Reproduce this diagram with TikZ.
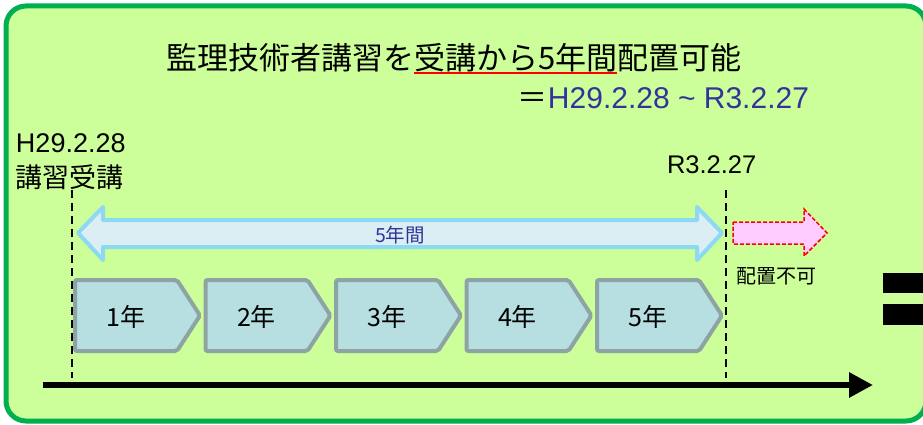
\documentclass[tikz,border=0pt]{standalone}
\usepackage{fontspec}
\setmainfont{Liberation Sans}
\newfontfamily\jp{Noto Sans CJK JP}
\usetikzlibrary{arrows.meta, positioning}

\definecolor{bggreen}{HTML}{CCFF99}
\definecolor{framegreen}{HTML}{00B050}
\definecolor{spanfill}{HTML}{DAEEF3}
\definecolor{spanline}{HTML}{8DD9F3}
\definecolor{yearfill}{HTML}{B7DEE0}
\definecolor{yearline}{HTML}{8EA4A4}
\definecolor{ngfill}{HTML}{FFCCFF}
\definecolor{eqblue}{HTML}{333399}

\begin{document}
\begin{tikzpicture}[x=1pt, y=-1pt,
	every node/.style={inner sep=0pt, outer sep=0pt},
	frame/.style={draw=framegreen, fill=bggreen, line width=5pt, rounded corners=20pt},
	title/.style={font=\jp\fontsize{31}{36}\selectfont, anchor=base west},
	period/.style={font=\fontsize{30}{36}\selectfont, anchor=base east},
	datelbl/.style={font=\fontsize{27}{32}\selectfont, anchor=base west},
	jplbl/.style={font=\jp\fontsize{27}{32}\selectfont, anchor=base west},
	spanarrow/.style={draw=spanline, fill=spanfill, line width=4pt, line join=round},
	spanlbl/.style={font=\jp\fontsize{19.5}{23}\selectfont, text=eqblue, anchor=base},
	ngarrow/.style={draw=red, fill=ngfill, line width=1.5pt, dash pattern=on 4pt off 2pt},
	nglbl/.style={font=\jp\fontsize{20}{24}\selectfont, anchor=base west},
	yearbox/.style={draw=yearline, fill=yearfill, line width=4pt, rounded corners=2pt},
	yearlbl/.style={font=\jp\fontsize{25}{30}\selectfont, anchor=base},
	limit/.style={line width=2.5pt, dash pattern=on 8pt off 5pt},
	axis/.style={line width=6pt, -{Triangle[length=24pt, width=24pt]}}
	]
	\useasboundingbox (0,0) rectangle (923,425);
	
	% background panel
	\draw[frame] (6,6) rectangle (926,421);
	
	% title
	\node[title] (t1) at (166,70) {監理技術者講習を};
	\node[title] (t2) at (t1.base east) {受講から5年間};
	\node[title] (t3) at (t2.base east) {配置可能};
	\draw[red, line width=2pt] ([yshift=-3pt]t2.base west) -- ([yshift=-3pt]t2.base east);
	\node[period] (span) at (809,109) {{\jp ＝}\textcolor{eqblue}{H29.2.28 \textasciitilde{} R3.2.27}};
	
	% start / end dates
	\node[datelbl] (startdate) at (16,153) {H29.2.28};
	\node[jplbl] (startlbl) at (16,187) {講習受講};
	\node[datelbl, font=\fontsize{25.5}{30}\selectfont] (enddate) at (667,173) {R3.2.27};
	
	\coordinate (starttop) at (72,190);
	\coordinate (startbot) at (72,378);
	\coordinate (endtop) at (726,190);
	\coordinate (endbot) at (726,378);
	\draw[limit] (starttop) -- (startbot);
	\draw[limit] (endtop) -- (endbot);
	
	% 5 year span
	\draw[spanarrow] (78,233) -- (103,207) -- (103,220) -- (697,220) -- (697,207)
		-- (722,233) -- (697,260) -- (697,247) -- (103,247) -- (103,260) -- cycle;
	\node[spanlbl] (spantxt) at (400,242) {5年間};
	
	% after the span
	\draw[ngarrow] (733,222) -- (804,222) -- (804,209) -- (827,233) -- (804,256)
		-- (804,244) -- (733,244) -- cycle;
	\node[nglbl] (ng) at (736,283) {配置不可};
	
	% years
	\foreach \i in {1,...,5} {
		\pgfmathsetmacro\xo{73+(\i-1)*130.5}
		\draw[yearbox] (\xo+2,280) -- (\xo+104,280) -- (\xo+127,315.5)
			-- (\xo+104,351) -- (\xo+2,351) -- cycle;
		\node[yearlbl] (y\i) at (\xo+53,326) {\i 年};
	}
	
	% time axis
	\coordinate (axstart) at (43,385);
	\coordinate (axend) at (873,385);
	\draw[axis] (axstart) -- (axend);
	
	% equals sign at the edge
	\fill (883,273) rectangle (925,293);
	\fill (883,304) rectangle (925,325);
	
\end{tikzpicture}
\end{document}
